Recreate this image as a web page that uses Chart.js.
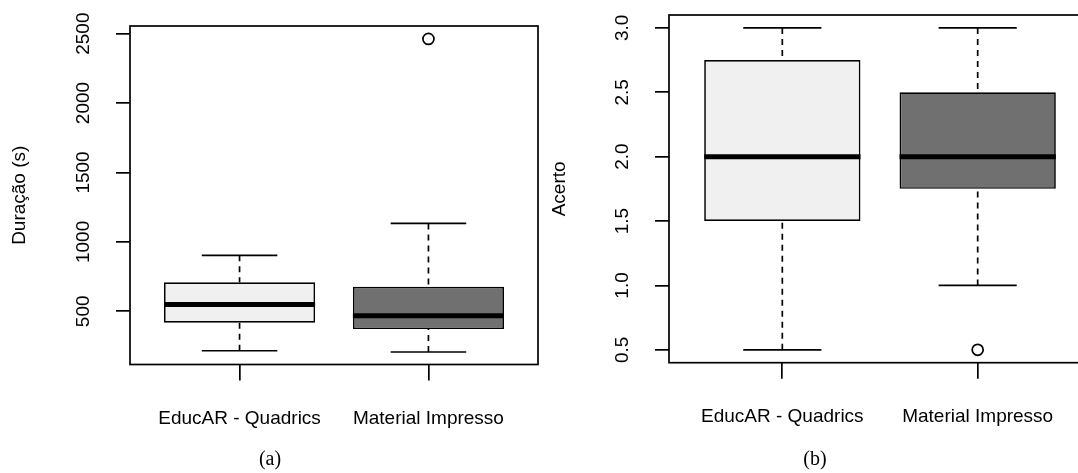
<!DOCTYPE html>
<html>
<head>
<meta charset="utf-8">
<script src="https://cdn.jsdelivr.net/npm/chart.js@4.4.1/dist/chart.umd.min.js"></script>
<style>
  html, body { margin: 0; padding: 0; background: #fff; overflow: hidden; width: 1078px; height: 473px; }
  #c1 { position: absolute; left: 0; top: 0; }
  #c2 { position: absolute; left: 540px; top: 0; }
  .cap { position: absolute; top: 448px; font: 20px/20px "Liberation Serif", serif; color: #000; transform: translateX(-50%); }
</style>
</head>
<body>
<canvas id="c1" width="540" height="473"></canvas>
<canvas id="c2" width="560" height="473"></canvas>
<div class="cap" style="left:270px">(a)</div>
<div class="cap" style="left:815px">(b)</div>
<script>
const cats = ['EducAR - Quadrics', 'Material Impresso'];

// (a) Duração (s)
const durLo = [216, 207];
const durQ1 = [418, 372];
const durMed = [550, 468];
const durQ3 = [709, 677];
const durHi = [903, 1133];
const durOut = [[], [2462]];
const durTicks = [500, 1000, 1500, 2000, 2500];
const durTickLabels = ['500', '1000', '1500', '2000', '2500'];

// (b) Acerto
const acLo = [0.5, 1];
const acQ1 = [1.5, 1.75];
const acMed = [2, 2];
const acQ3 = [2.75, 2.5];
const acHi = [3, 3];
const acOut = [[], [0.5]];
const acTicks = [0.5, 1, 1.5, 2, 2.5, 3];
const acTickLabels = ['0.5', '1.0', '1.5', '2.0', '2.5', '3.0'];

const boxFill = ['#f0f0f0', '#707070'];
const FONT = "'Liberation Sans', Arial, sans-serif";
const FS = 19;
const LW = 1.7;

// rotated y tick labels + frame, R style
const rStyle = {
  id: 'rStyle',
  afterDraw(chart) {
    const { ctx, chartArea: a, scales: { y } } = chart;
    ctx.save();
    ctx.font = FS + 'px ' + FONT;
    ctx.fillStyle = '#000';
    ctx.textAlign = 'center';
    ctx.textBaseline = 'middle';
    y.ticks.forEach(t => {
      ctx.save();
      ctx.translate(a.left - 46, y.getPixelForValue(t.value));
      ctx.rotate(-Math.PI / 2);
      ctx.fillText(t.label, 0, 0);
      ctx.restore();
    });
    ctx.lineWidth = LW;
    ctx.strokeStyle = '#000';
    ctx.strokeRect(a.left, a.top, a.right - a.left, a.bottom - a.top);
    ctx.restore();
  }
};

function seg(data, extra) {
  return Object.assign({
    type: 'line', data: data, borderColor: '#000', borderWidth: LW,
    pointRadius: 0, fill: false, order: 2
  }, extra || {});
}

function boxChart(id, o) {
  const ds = [];
  cats.forEach((c, i) => {
    const x = i + 1;
    ds.push(seg([{ x: x - 0.4, y: o.med[i] }, { x: x + 0.4, y: o.med[i] }], { borderWidth: 5, order: 0 }));
  });
  ds.push({
    type: 'bar',
    data: cats.map((c, i) => ({ x: i + 1, y: [o.q1[i], o.q3[i]] })),
    backgroundColor: boxFill,
    borderColor: '#000',
    borderWidth: LW,
    borderSkipped: false,
    barPercentage: 0.8,
    categoryPercentage: 1,
    order: 1
  });
  cats.forEach((c, i) => {
    const x = i + 1;
    ds.push(seg([{ x: x, y: o.hi[i] }, { x: x, y: o.q3[i] }], { borderDash: [6, 5] }));
    ds.push(seg([{ x: x, y: o.lo[i] }, { x: x, y: o.q1[i] }], { borderDash: [6, 5] }));
    ds.push(seg([{ x: x - 0.2, y: o.hi[i] }, { x: x + 0.2, y: o.hi[i] }]));
    ds.push(seg([{ x: x - 0.2, y: o.lo[i] }, { x: x + 0.2, y: o.lo[i] }]));
  });
  ds.push({
    type: 'scatter',
    data: o.out.flatMap((arr, i) => arr.map(v => ({ x: i + 1, y: v }))),
    pointRadius: 5.5,
    pointBackgroundColor: '#fff',
    pointBorderColor: '#000',
    pointBorderWidth: LW,
    order: 0
  });

  return new Chart(document.getElementById(id), {
    type: 'bar',
    data: { datasets: ds },
    plugins: [rStyle],
    options: {
      responsive: false,
      animation: false,
      events: [],
      layout: { autoPadding: false, padding: { left: 0, top: o.top, right: o.right, bottom: 0 } },
      plugins: { legend: { display: false }, tooltip: { enabled: false } },
      scales: {
        x: {
          type: 'linear', min: 0.42, max: 2.58, offset: false,
          afterBuildTicks: s => { s.ticks = cats.map((c, i) => ({ value: i + 1 })); },
          afterFit: s => { s.height = o.xh; s.paddingLeft = 0; s.paddingRight = 0; },
          ticks: {
            callback: (v, i) => cats[i], color: '#000', padding: 27,
            font: { family: FONT, size: FS }, maxRotation: 0, minRotation: 0, autoSkip: false
          },
          grid: { offset: false, drawOnChartArea: false, tickLength: 16, color: '#000', lineWidth: LW },
          border: { display: false }
        },
        y: {
          type: 'linear', min: o.min, max: o.max,
          afterBuildTicks: s => { s.ticks = o.ticks.map(v => ({ value: v })); },
          afterFit: s => { s.width = o.yw; s.paddingTop = 0; s.paddingBottom = 0; },
          ticks: { display: false, callback: (v, i) => o.tickLabels[i] },
          grid: { drawOnChartArea: false, tickLength: 14, color: '#000', lineWidth: LW },
          border: { display: false },
          title: {
            display: true, text: o.title, color: '#000',
            font: { family: FONT, size: FS }, padding: { top: 8.5, bottom: 0 }
          }
        }
      }
    }
  });
}

boxChart('c1', {
  lo: durLo, q1: durQ1, med: durMed, q3: durQ3, hi: durHi, out: durOut,
  ticks: durTicks, tickLabels: durTickLabels, title: 'Duração (s)',
  min: 117, max: 2555, top: 26, right: 2, xh: 108.5, yw: 130
});

boxChart('c2', {
  lo: acLo, q1: acQ1, med: acMed, q3: acQ3, hi: acHi, out: acOut,
  ticks: acTicks, tickLabels: acTickLabels, title: 'Acerto',
  min: 0.4, max: 3.1, top: 15, right: 9, xh: 110.3, yw: 129
});
</script>
</body>
</html>
